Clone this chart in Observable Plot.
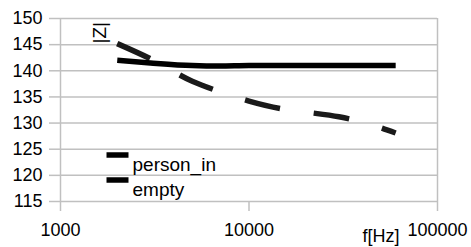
<!DOCTYPE html>
<html>
<head>
<meta charset="utf-8">
<script src="https://cdn.jsdelivr.net/npm/d3@7"></script>
<script src="https://cdn.jsdelivr.net/npm/@observablehq/plot@0.6"></script>
<style>
  html, body { margin: 0; padding: 0; background: #fff; }
  #chart svg { display: block; }
</style>
</head>
<body>
<div id="chart"></div>
<script>
// ---- data ----
const freqs = [2000, 3000, 5000, 7000, 10000, 15000, 20000, 30000, 40000, 60000];
const personIn = [142.0, 141.5, 141.0, 140.9, 141.0, 141.0, 141.0, 141.0, 141.0, 141.0];
const empty    = [145.2, 142.3, 138.0, 136.0, 134.2, 132.7, 132.1, 131.2, 130.2, 128.1];
const seriesNames = ["person_in", "empty"];
const yTicks = [115, 120, 125, 130, 135, 140, 145, 150];
const xTicks = [1000, 10000, 100000];
const xTitle = "f[Hz]";
const yTitle = "|Z|";

const personData = freqs.map((f, i) => ({f, v: personIn[i]}));
const emptyData = freqs.map((f, i) => ({f, v: empty[i]}));

const grid = "#c0c0c0";
const barSymbol = { draw(ctx) { ctx.rect(-11, -2.75, 22, 5.5); } };

const legendMarks = seriesNames.flatMap((name, i) => [
  Plot.dot([name], {frameAnchor: "top-left", dx: 57, dy: 136.5 + i * 25, symbol: barSymbol, fill: "#000", stroke: null}),
  Plot.text([name], {frameAnchor: "top-left", dx: 72, dy: 139 + i * 25, text: d => d, textAnchor: "start", fontSize: 19, fill: "#000"})
]);

const chart = Plot.plot({
  width: 471,
  height: 247,
  marginLeft: 60,
  marginRight: 34,
  marginTop: 18,
  marginBottom: 46,
  style: {fontFamily: "'Liberation Sans', Arial, sans-serif", fontSize: "18px", color: "#000", background: "#fff"},
  x: {type: "log", domain: [1000, 100000]},
  y: {domain: [115, 150]},
  marks: [
    Plot.ruleY(yTicks, {stroke: grid, strokeWidth: 1.5}),
    Plot.ruleX([xTicks[0], xTicks[xTicks.length - 1]], {stroke: grid, strokeWidth: 1.5}),
    Plot.axisY({ticks: yTicks, tickSize: 11, tickPadding: 7, stroke: grid, strokeWidth: 1.5, fill: "#000", label: null, fontSize: 18}),
    Plot.axisX({ticks: xTicks, tickSize: 10, tickPadding: 12, stroke: grid, strokeWidth: 1.5, fill: "#000", label: null, fontSize: 18, tickFormat: d => String(d)}),
    Plot.line(emptyData, {x: "f", y: "v", stroke: "#1a1a1a", strokeWidth: 5.5, strokeDasharray: "36,34", strokeLinecap: "butt", curve: "monotone-x"}),
    Plot.line(personData, {x: "f", y: "v", stroke: "#000", strokeWidth: 5.5, strokeLinecap: "butt", curve: "monotone-x"}),
    ...legendMarks,
    Plot.text([yTitle], {frameAnchor: "top-left", dx: 32, dy: 25, text: d => d, rotate: -90, fontSize: 19, fill: "#000"}),
    Plot.text([xTitle], {frameAnchor: "bottom-right", dx: -38, dy: 40, text: d => d, textAnchor: "end", fontSize: 18, fill: "#000"})
  ]
});
document.getElementById("chart").appendChild(chart);
</script>
</body>
</html>
